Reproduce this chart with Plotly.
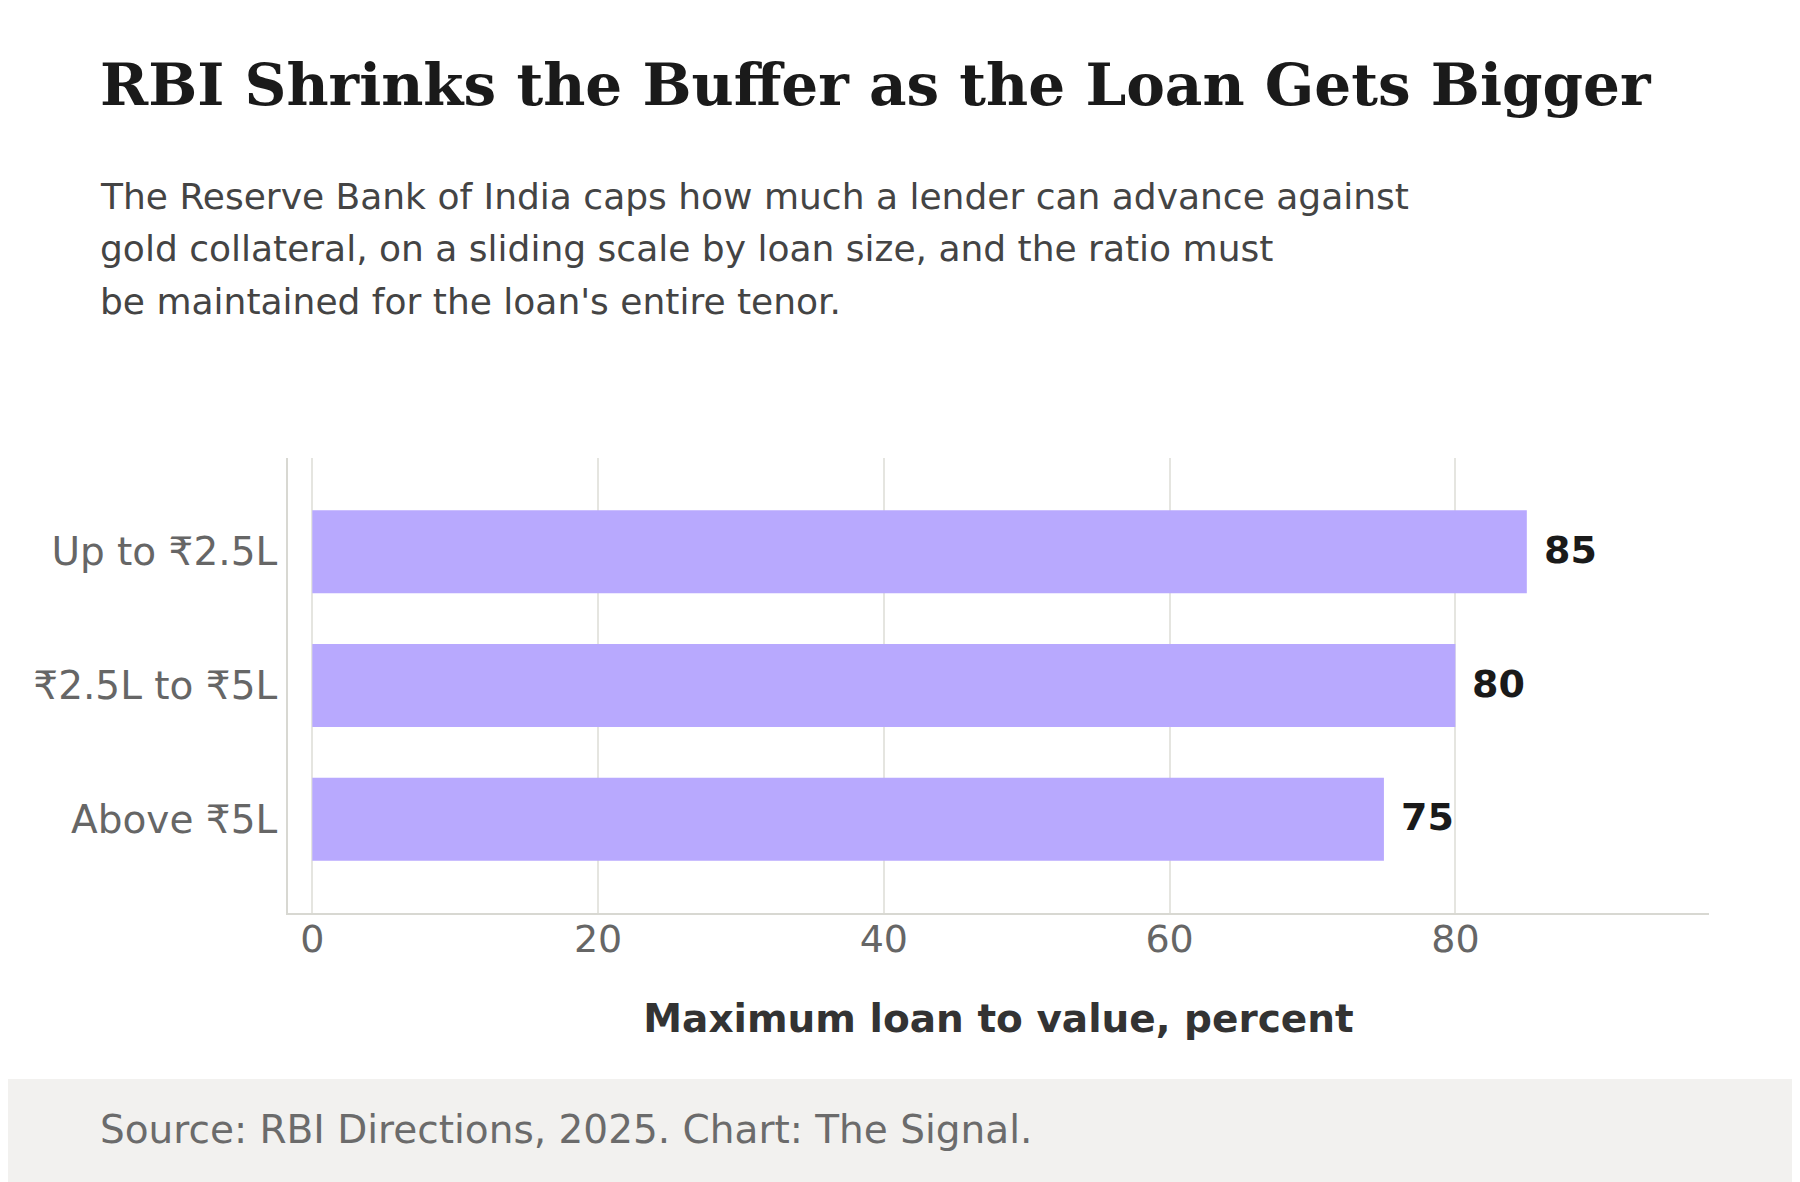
import plotly.graph_objects as go

# chart data
categories = ["Up to ₹2.5L", "₹2.5L to ₹5L", "Above ₹5L"]
ltv_values = [85, 80, 75]
x_ticks = [0, 20, 40, 60, 80]

TITLE = "RBI Shrinks the Buffer as the Loan Gets Bigger"
SUBTITLE_LINES = [
    "The Reserve Bank of India caps how much a lender can advance against",
    "gold collateral, on a sliding scale by loan size, and the ratio must",
    "be maintained for the loan's entire tenor.",
]
SOURCE = "Source: RBI Directions, 2025. Chart: The Signal."
X_TITLE = "Maximum loan to value, percent"

# the page body has an 8px margin, so the figure is drawn 8px smaller
OFF = 8
W, H = 1800 - OFF, 1182 - OFF
ML, MR, MT, MB = 288 - OFF, 91, 458 - OFF, 269
PW, PH = W - ML - MR, H - MT - MB


def px_x(px):
    """Page pixel x -> paper x."""
    return (px - OFF - ML) / PW


def px_y(py):
    """Page pixel y (from top) -> paper y."""
    return (H - MB - (py - OFF)) / PH


SANS = "DejaVu Sans, Noto Sans, sans-serif"
SERIF = "DejaVu Serif, serif"

fig = go.Figure()
fig.add_trace(go.Bar(
    x=ltv_values,
    y=categories,
    orientation="h",
    marker=dict(color="#b8a9fe", line=dict(width=0)),
    hoverinfo="skip",
))

# value labels just right of each bar
for cat, val in zip(categories, ltv_values):
    fig.add_annotation(
        x=val, y=cat, xref="x", yref="y",
        text=f"<b>{val}</b>", showarrow=False,
        xanchor="left", yanchor="middle", xshift=15, yshift=2,
        font=dict(family=SANS, size=38, color="#1a1a1a"),
    )

# title and subtitle
fig.add_annotation(
    x=px_x(98), y=px_y(105), xref="paper", yref="paper",
    text=f"<b>{TITLE}</b>", showarrow=False,
    xanchor="left", yanchor="bottom", yshift=-15.5,
    font=dict(family=SERIF, size=58, color="#1a1a1a"),
)
for i, line in enumerate(SUBTITLE_LINES):
    fig.add_annotation(
        x=px_x(98), y=px_y(211 + i * 52.5), xref="paper", yref="paper",
        text=line, showarrow=False,
        xanchor="left", yanchor="bottom", yshift=-8,
        font=dict(family=SANS, size=36, color="#444444"),
    )

# footer band + source
fig.add_shape(
    type="rect", xref="paper", yref="paper",
    x0=px_x(0), x1=px_x(1800), y0=px_y(1182), y1=px_y(1079),
    fillcolor="#f2f1ef", line=dict(width=0), layer="below",
)
fig.add_annotation(
    x=px_x(98), y=px_y(1141), xref="paper", yref="paper",
    text=SOURCE, showarrow=False,
    xanchor="left", yanchor="bottom", yshift=-12.5,
    font=dict(family=SANS, size=39, color="#6b6b6b"),
)

fig.update_layout(
    width=W, height=H,
    margin=dict(l=ML, r=MR, t=MT, b=MB, pad=0),
    paper_bgcolor="white", plot_bgcolor="white",
    showlegend=False,
    bargap=0.38,
    font=dict(family=SANS),
)
fig.update_xaxes(
    range=[-1.7, 97.75],
    tickvals=x_ticks,
    ticktext=[str(t) for t in x_ticks],
    showgrid=True, gridcolor="#e5e5e0", gridwidth=2,
    zeroline=False,
    showline=True, linecolor="#d8d8d2", linewidth=2,
    ticks="", tickfont=dict(family=SANS, size=38, color="#666666"),
    ticklabelstandoff=-9,
    title=dict(text=f"<b>{X_TITLE}</b>", standoff=45,
               font=dict(family=SANS, size=39, color="#333333")),
)
fig.update_yaxes(
    categoryorder="array", categoryarray=categories,
    range=[2.7, -0.7],
    showgrid=False, zeroline=False,
    showline=True, linecolor="#d8d8d2", linewidth=2,
    ticks="", tickfont=dict(family=SANS, size=39, color="#666666"),
    ticklabelstandoff=1,
)

fig.write_html("out.html")
